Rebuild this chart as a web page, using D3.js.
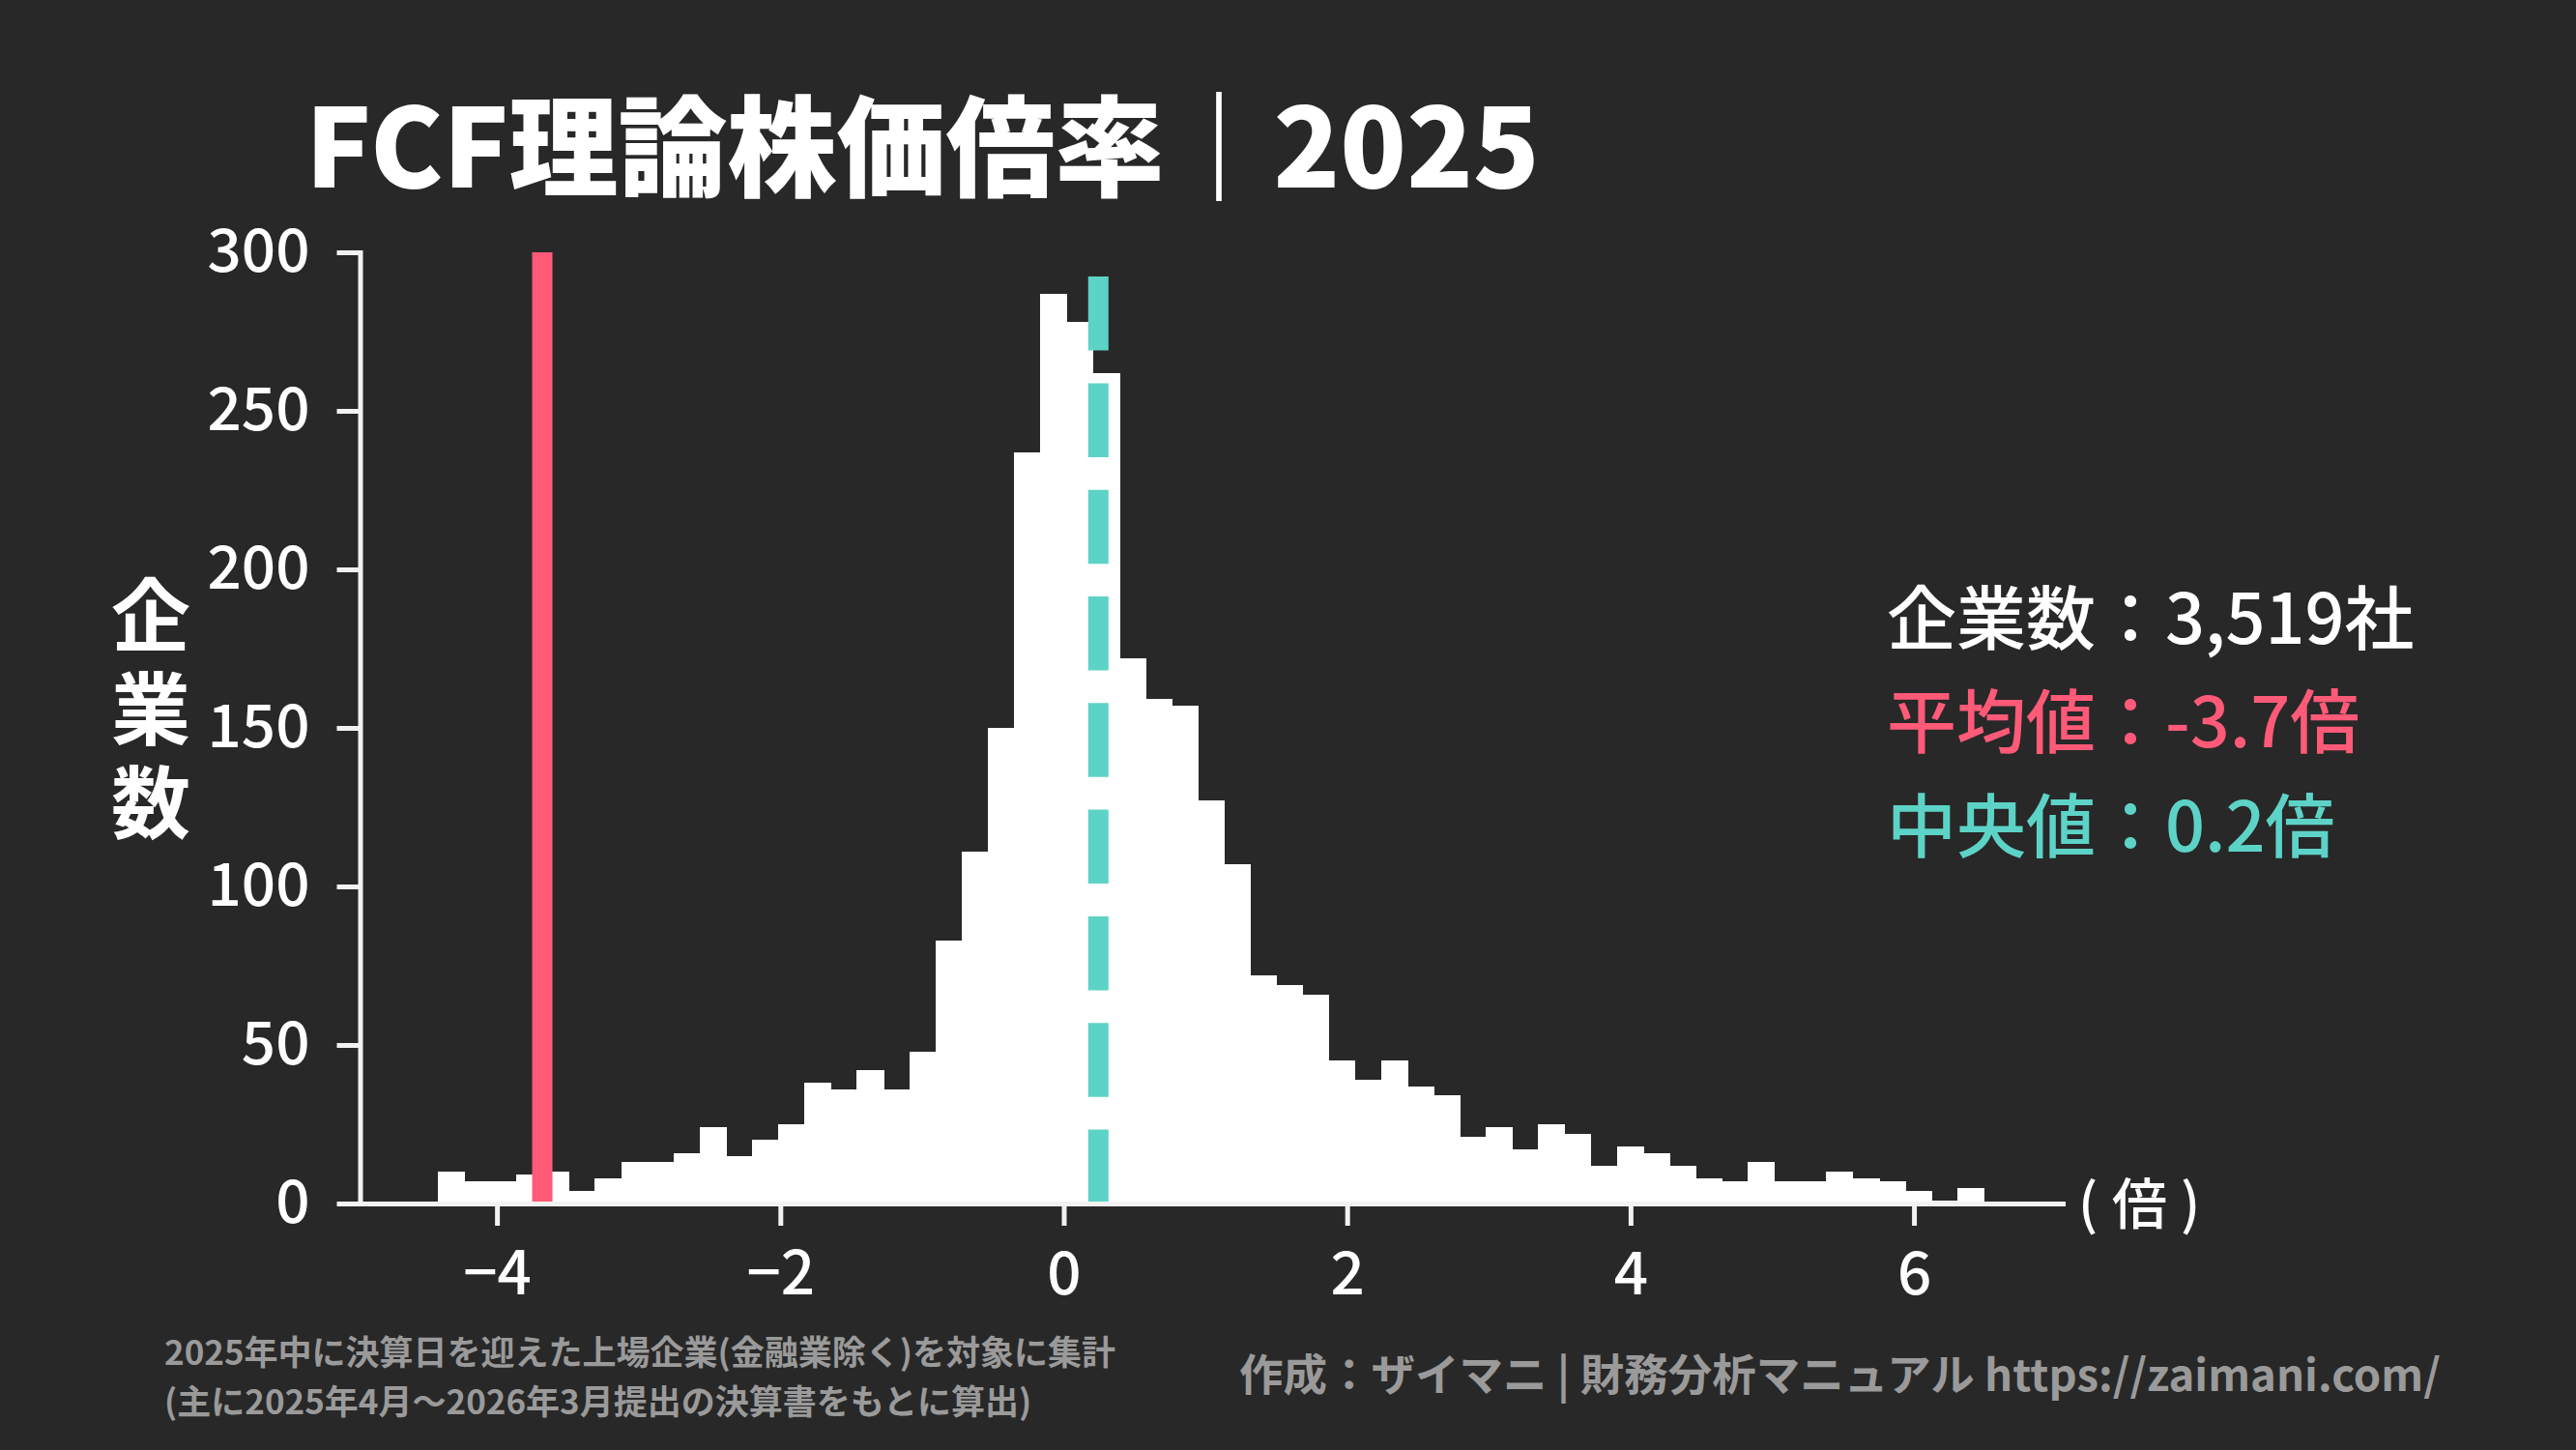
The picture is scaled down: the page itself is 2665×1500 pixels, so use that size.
<!DOCTYPE html>
<html>
<head>
<meta charset="utf-8">
<script src="https://cdn.jsdelivr.net/npm/d3@7/dist/d3.min.js"></script>
<style>
  html, body { margin: 0; padding: 0; background: #282828; }
  svg { display: block; }
</style>
</head>
<body>
<script>
// ---- data ----
const binEdges = [-4.418, -4.233, -4.048, -3.863, -3.679, -3.494, -3.309, -3.124, -2.939, -2.754,
  -2.569, -2.384, -2.199, -2.015, -1.830, -1.645, -1.460, -1.275, -1.090, -0.905,
  -0.720, -0.535, -0.351, -0.166, 0.019, 0.204, 0.389, 0.574, 0.759, 0.944,
  1.129, 1.314, 1.498, 1.683, 1.868, 2.053, 2.238, 2.423, 2.608, 2.793,
  2.977, 3.162, 3.347, 3.532, 3.717, 3.902, 4.087, 4.272, 4.456, 4.641,
  4.826, 5.011, 5.196, 5.381, 5.566, 5.751, 5.935, 6.120, 6.305, 6.490];
const counts = [10, 7, 7, 9, 10, 4, 8, 13, 13, 16,
  24, 15, 20, 25, 38, 36, 42, 36, 48, 83,
  111, 150, 237, 287, 278, 262, 172, 159, 157, 127,
  107, 72, 69, 66, 45, 39, 45, 37, 34, 21,
  24, 17, 25, 22, 12, 18, 16, 12, 8, 7,
  13, 7, 7, 10, 8, 7, 4, 1, 5];
const xTicks = [-4, -2, 0, 2, 4, 6];
const yTicks = [0, 50, 100, 150, 200, 250, 300];
const xLimits = [-4.966, 7.05];
const yLimits = [0, 300];
const meanValue = -3.68;
const medianValue = 0.244;
const titleText = "FCF理論株価倍率｜2025";
const yLabelText = "企業数";
const xUnitParts = ["(", "倍", ")"];
const statLines = ["企業数：3,519社", "平均値：-3.7倍", "中央値：0.2倍"];
const footLeft = ["2025年中に決算日を迎えた上場企業(金融業除く)を対象に集計",
                  "(主に2025年4月～2026年3月提出の決算書をもとに算出)"];
const footRight = "作成：ザイマニ | 財務分析マニュアル https://zaimani.com/";

// ---- style ----
const W = 2665, H = 1500;
const BG = "#282828", FG = "#ffffff", RED = "#ff5a78", TEAL = "#5dd3c7", GREY = "#9a9a9a";
const FONT = "'Noto Sans CJK JP', 'Noto Sans', sans-serif";
const statColors = [FG, RED, TEAL];

const svg = d3.select("body").append("svg").attr("width", W).attr("height", H)
  .style("background", BG);
svg.append("rect").attr("width", W).attr("height", H).attr("fill", BG);

const x = d3.scaleLinear().domain(xLimits).range([372.5, 2134]);
const y = d3.scaleLinear().domain(yLimits).range([1245, 261]);

// bars
const bars = counts.map((c, i) => ({ x0: binEdges[i], x1: binEdges[i + 1], c }));
svg.append("g").attr("shape-rendering", "crispEdges")
  .selectAll("rect").data(bars).join("rect")
  .attr("x", d => x(d.x0))
  .attr("width", d => x(d.x1) - x(d.x0) + 1)
  .attr("y", d => y(d.c))
  .attr("height", d => y(0) - y(d.c))
  .attr("fill", FG);

// mean line
svg.append("line")
  .attr("x1", x(meanValue)).attr("x2", x(meanValue))
  .attr("y1", y(0)).attr("y2", y(300))
  .attr("stroke", RED).attr("stroke-width", 21);

// median dashed line (pattern starting at the bottom)
svg.append("line")
  .attr("x1", x(medianValue)).attr("x2", x(medianValue))
  .attr("y1", y(0)).attr("y2", y(300))
  .attr("stroke", TEAL).attr("stroke-width", 21)
  .attr("stroke-dasharray", "76.5 33.8");

// axes
const xAxis = d3.axisBottom(x).tickValues(xTicks).tickSizeInner(23).tickSizeOuter(0).tickPadding(27)
  .tickFormat(d3.format("d"));
const yAxis = d3.axisLeft(y).tickValues(yTicks).tickSizeInner(24).tickSizeOuter(0).tickPadding(28);

const gx = svg.append("g").attr("transform", `translate(0,${y(0)})`).call(xAxis);
const gy = svg.append("g").attr("transform", `translate(${x(xLimits[0])},0)`).call(yAxis);

[gx, gy].forEach(g => {
  g.select(".domain").attr("stroke", "#f2f2f2").attr("stroke-width", 5).attr("stroke-linecap", "square");
  g.selectAll(".tick line").attr("stroke", "#f2f2f2").attr("stroke-width", 5);
  g.selectAll(".tick text").attr("fill", FG).style("font-family", FONT)
    .style("font-size", "62px").style("font-weight", 500);
});

// x unit label
const unitX = [2150, 2185, 2256];
svg.append("text").attr("y", 1246).attr("dy", "0.35em")
  .attr("fill", FG).style("font-family", FONT).style("font-size", "57px").style("font-weight", 500)
  .selectAll("tspan").data(xUnitParts).join("tspan")
  .attr("x", (d, i) => unitX[i]).text(d => d);

// y label (vertical writing, single text element)
svg.append("text")
  .attr("x", 156).attr("y", 740)
  .attr("text-anchor", "middle")
  .style("writing-mode", "vertical-rl")
  .style("letter-spacing", "15px")
  .attr("fill", FG)
  .style("font-family", FONT).style("font-size", "82px").style("font-weight", 700)
  .text(yLabelText);

// title
svg.append("text").attr("x", 316).attr("y", 194)
  .attr("fill", FG).style("font-family", FONT).style("font-size", "113px").style("font-weight", 900)
  .text(titleText);

// stats
svg.append("g").selectAll("text").data(statLines).join("text")
  .attr("x", 1952).attr("y", (d, i) => 640 + i * 107.5).attr("dy", "0.36em")
  .attr("fill", (d, i) => statColors[i])
  .style("font-family", FONT).style("font-size", "72px").style("font-weight", 500)
  .text(d => d);

// footers
svg.append("text").attr("fill", GREY)
  .style("font-family", FONT).style("font-size", "35px").style("font-weight", 700)
  .selectAll("tspan").data(footLeft).join("tspan")
  .attr("x", 170).attr("y", (d, i) => 1399.5 + i * 51).attr("dy", "0.36em")
  .text(d => d);

svg.append("text").attr("x", 1282).attr("y", 1423).attr("dy", "0.36em")
  .attr("fill", GREY).style("font-family", FONT).style("font-size", "45.5px").style("font-weight", 700)
  .text(footRight);
</script>
</body>
</html>
